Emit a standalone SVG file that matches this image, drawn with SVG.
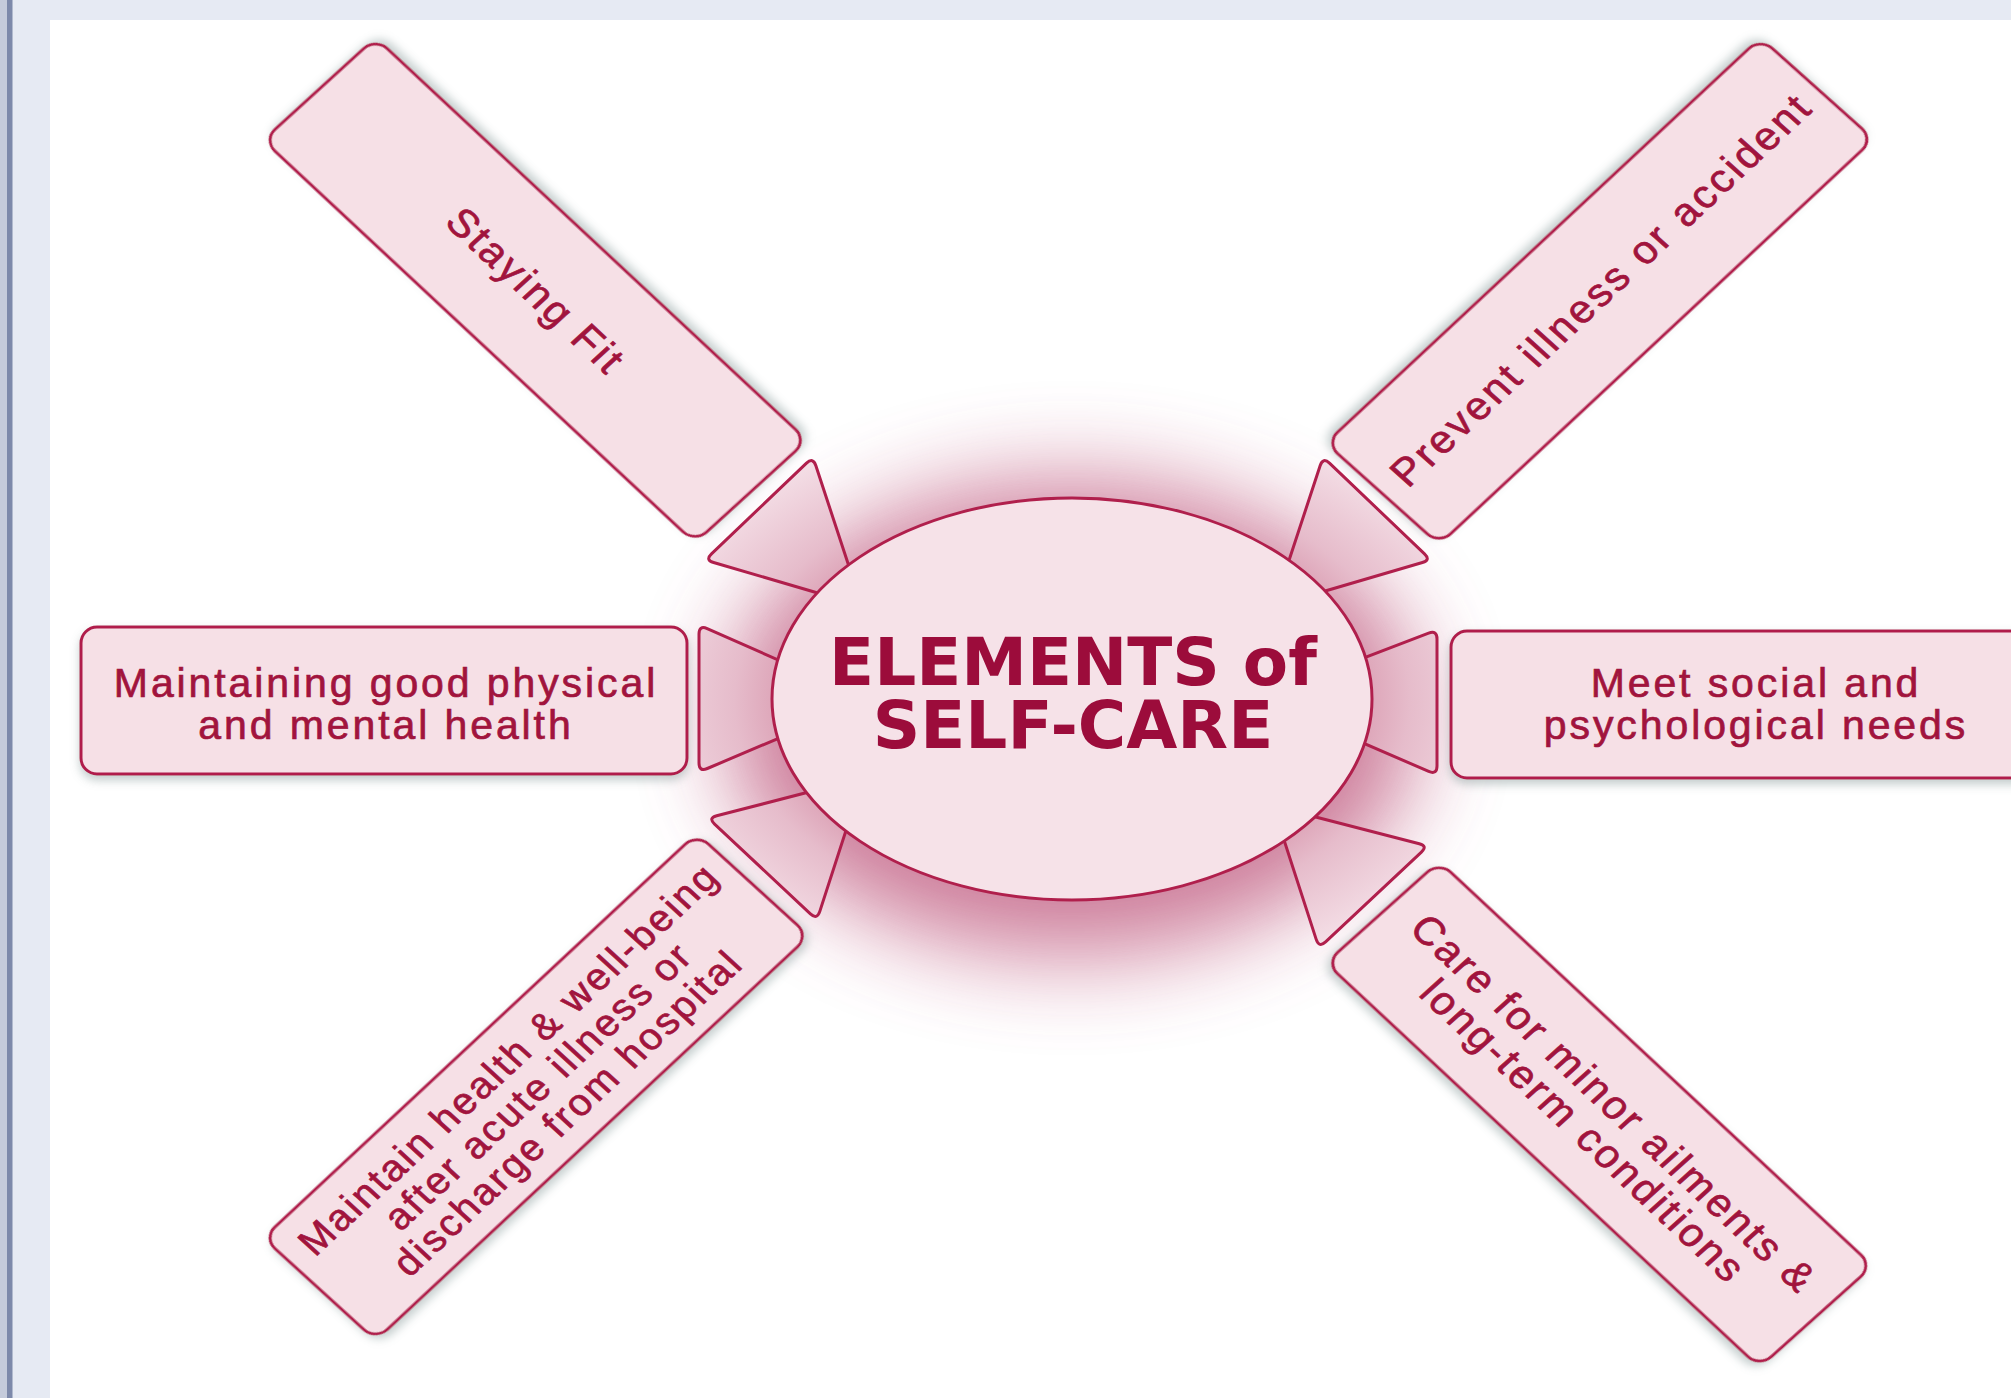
<svg xmlns="http://www.w3.org/2000/svg" width="2011" height="1398" viewBox="0 0 2011 1398">
  <style>
    .box { fill: #f6e0e6; stroke: #b01f4c; stroke-width: 3; }
    .wedge { fill: url(#wedgeFill); stroke: #b01f4c; stroke-width: 3; stroke-linejoin: round; }
    .lbl { font-family: "Liberation Sans", Arial, sans-serif; font-size: 41px; fill: #a1143d; stroke: #a1143d; stroke-width: 0.7; letter-spacing: 2.9px; text-anchor: middle; }
    .lbl3 { font-size: 39px; letter-spacing: 2.5px; }
    .title { font-family: "DejaVu Sans", Verdana, sans-serif; font-weight: bold; font-size: 66px; fill: #9c0c3b; text-anchor: middle; }
  </style>
  <defs>
    <filter id="glowBlur" x="-50%" y="-50%" width="200%" height="200%">
      <feGaussianBlur stdDeviation="46"/>
    </filter>
    <filter id="shDown" x="-10%" y="-30%" width="120%" height="160%">
      <feDropShadow dx="0" dy="5" stdDeviation="5" flood-color="#7f9292" flood-opacity="0.45"/>
    </filter>
    <filter id="shUp" x="-10%" y="-30%" width="120%" height="160%">
      <feDropShadow dx="0" dy="-5" stdDeviation="5" flood-color="#7f9292" flood-opacity="0.45"/>
    </filter>
    <radialGradient id="wedgeFill" gradientUnits="userSpaceOnUse" cx="0" cy="0" r="300" gradientTransform="translate(1072 700) scale(1.5 1)">
      <stop offset="0.6" stop-color="#d897ad"/>
      <stop offset="0.75" stop-color="#e6bccb"/>
      <stop offset="1" stop-color="#f5e1e8"/>
    </radialGradient>
  </defs>

  <!-- page frame -->
  <rect x="0" y="0" width="2011" height="1398" fill="#e6eaf3"/>
  <rect x="0" y="0" width="7" height="1398" fill="#c5cbdb"/>
  <rect x="7" y="0" width="5.5" height="1398" fill="#7d89aa"/>
  <rect x="50" y="20" width="1961" height="1378" fill="#ffffff"/>

  <!-- soft halo behind the hub -->
  <ellipse cx="1072" cy="718" rx="345" ry="238" fill="#b94a72" opacity="0.72" filter="url(#glowBlur)"/>

  <!-- tapered connectors between the hub and each element -->
  <g id="connectors">
    <path class="wedge" d="M 869 700 L 707.2 628.6 Q 699 625 699 634 L 699 763 Q 699 772 707.3 768.5 Z"/>
    <path class="wedge" d="M 1259 698 L 1428.6 633.2 Q 1437 630 1437 639 L 1437 766 Q 1437 775 1428.7 771.4 Z"/>
    <path class="wedge" d="M 862 606 L 815.8 465.5 Q 813 457 806.5 463.2 L 711.5 553.8 Q 705 560 713.6 562.5 Z"/>
    <path class="wedge" d="M 1274 606 L 1320.2 465.5 Q 1323 457 1329.5 463.2 L 1424.5 553.8 Q 1431 560 1422.4 562.5 Z"/>
    <path class="wedge" d="M 863 778 L 716.7 815.8 Q 708 818 714.6 824.1 L 810.4 913.9 Q 817 920 819.8 911.4 Z"/>
    <path class="wedge" d="M 1273 806 L 1419.3 843.8 Q 1428 846 1421.4 852.1 L 1325.6 941.9 Q 1319 948 1316.2 939.4 Z"/>
  </g>

  <!-- hub -->
  <g id="hub">
    <ellipse cx="1072" cy="699" rx="300" ry="201" fill="#f6e2e8" stroke="#b01f4c" stroke-width="3"/>
    <text class="title"><tspan x="1073" y="685">ELEMENTS of</tspan><tspan x="1073" y="748">SELF-CARE</tspan></text>
  </g>

  <!-- elements -->
  <g id="node-physical-mental">
    <rect class="box" x="81" y="627" width="606" height="147" rx="16" filter="url(#shDown)"/>
    <text class="lbl"><tspan x="386" y="697">Maintaining good physical</tspan><tspan x="386" y="739">and mental health</tspan></text>
  </g>

  <g id="node-social-psychological">
    <rect class="box" x="1451" y="631" width="606" height="147" rx="16" filter="url(#shDown)"/>
    <text class="lbl"><tspan x="1756" y="697">Meet social and</tspan><tspan x="1756" y="739">psychological needs</tspan></text>
  </g>

  <g id="node-staying-fit">
    <g transform="matrix(0.7315 0.6823 -0.7388 0.6730 375.6 37.8)">
      <rect class="box" width="590" height="152" rx="16" filter="url(#shUp)"/>
      <text class="lbl" x="296" y="90">Staying Fit</text>
    </g>
  </g>

  <g id="node-prevent">
    <g transform="matrix(0.7315 -0.6823 0.7454 0.6671 1325.9 443.1)">
      <rect class="box" width="594" height="152" rx="16" filter="url(#shUp)"/>
      <text class="lbl" x="299" y="90">Prevent illness or accident</text>
    </g>
  </g>

  <g id="node-maintain-after-illness">
    <g transform="matrix(0.7298 -0.6808 0.7388 0.6730 263.3 1237.9)">
      <rect class="box" width="594" height="152" rx="16" filter="url(#shDown)"/>
      <text class="lbl lbl3"><tspan x="299" y="50">Maintain health &amp; well-being</tspan><tspan x="299" y="90">after acute illness or</tspan><tspan x="299" y="130">discharge from hospital</tspan></text>
    </g>
  </g>

  <g id="node-minor-ailments">
    <g transform="matrix(0.7298 0.6808 -0.7454 0.6671 1439.2 861.5)">
      <rect class="box" width="594" height="152" rx="16" filter="url(#shDown)"/>
      <text class="lbl"><tspan x="299" y="72">Care for minor ailments &amp;</tspan><tspan x="299" y="113">long-term conditions</tspan></text>
    </g>
  </g>
</svg>
